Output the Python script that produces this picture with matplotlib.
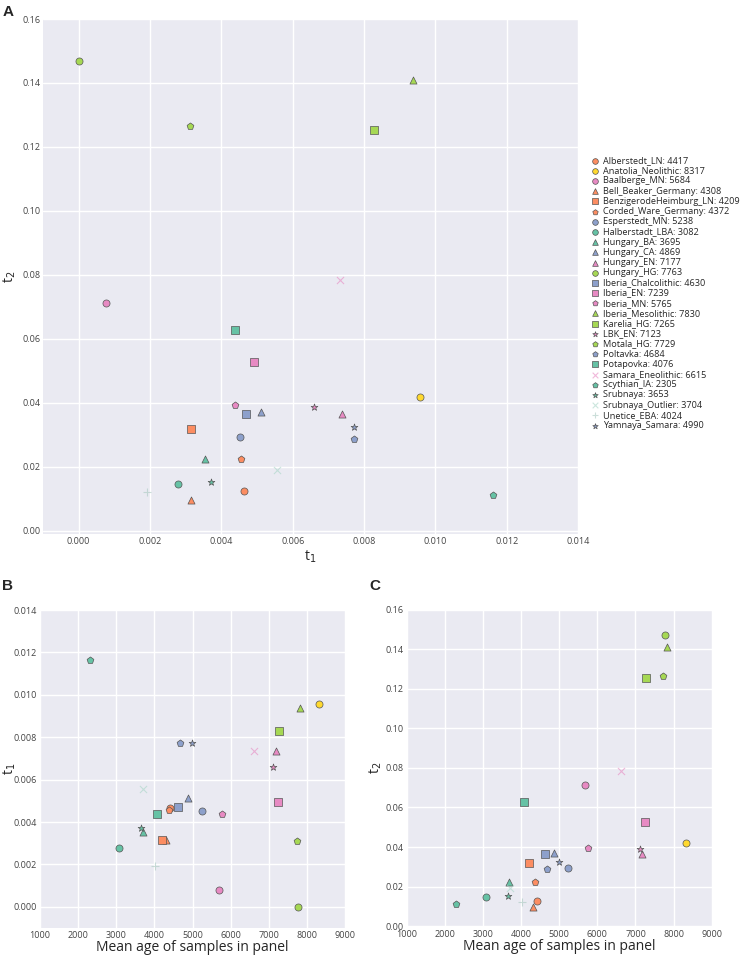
import numpy as np
import matplotlib.pyplot as plt
import seaborn as sns

groups = ['Alberstedt_LN', 'Anatolia_Neolithic', 'Baalberge_MN', 'Bell_Beaker_Germany',
          'BenzigerodeHeimburg_LN', 'Corded_Ware_Germany', 'Esperstedt_MN', 'Halberstadt_LBA',
          'Hungary_BA', 'Hungary_CA', 'Hungary_EN', 'Hungary_HG', 'Iberia_Chalcolithic',
          'Iberia_EN', 'Iberia_MN', 'Iberia_Mesolithic', 'Karelia_HG', 'LBK_EN', 'Motala_HG',
          'Poltavka', 'Potapovka', 'Samara_Eneolithic', 'Scythian_IA', 'Srubnaya',
          'Srubnaya_Outlier', 'Unetice_EBA', 'Yamnaya_Samara']
ages = [4417, 8317, 5684, 4308, 4209, 4372, 5238, 3082, 3695, 4869, 7177, 7763, 4630,
        7239, 5765, 7830, 7265, 7123, 7729, 4684, 4076, 6615, 2305, 3653, 3704, 4024, 4990]
t1 = [0.00464, 0.00957, 0.00078, 0.00316, 0.00315, 0.00455, 0.00451, 0.00279,
      0.00354, 0.00511, 0.00737, 0.00000, 0.00470, 0.00492, 0.00438, 0.00938,
      0.00828, 0.00660, 0.00311, 0.00772, 0.00438, 0.00733, 0.01162, 0.00370,
      0.00556, 0.00192, 0.00772]
t2 = [0.0126, 0.0418, 0.0713, 0.0096, 0.0317, 0.0225, 0.0292, 0.0146,
      0.0224, 0.0370, 0.0364, 0.1470, 0.0365, 0.0529, 0.0393, 0.1410,
      0.1253, 0.0388, 0.1266, 0.0288, 0.0627, 0.0784, 0.0112, 0.0153,
      0.0191, 0.0120, 0.0326]

# styles per group
teal, orange, blue, pink, green, yellow = '#66c2a5', '#fc8d62', '#8da0cb', '#e78ac3', '#a6d854', '#ffd92f'
colors = [orange, yellow, pink, orange, orange, orange, blue, teal, teal, blue, pink, green,
          blue, pink, pink, green, green, pink, green, blue, teal, pink, teal, teal, '#a9d6c8',
          '#a9c9c0', blue]
markers = ['o', 'o', 'o', '^', 's', 'p', 'o', 'o', '^', '^', '^', 'o', 's', 's', 'p', '^',
           's', '*', 'p', 'p', 's', 'x', 'p', '*', 'x', '+', '*']

sns.set_style('darkgrid')
plt.rcParams['font.family'] = ['Open Sans', 'DejaVu Sans']
plt.rcParams['axes.facecolor'] = '#eaeaf2'
plt.rcParams['xtick.color'] = '#444444'
plt.rcParams['ytick.color'] = '#444444'

fig = plt.figure(figsize=(7.41, 9.56), dpi=100)
axA = fig.add_axes([0.058, 0.4414, 0.722, 0.5387])
axB = fig.add_axes([0.054, 0.0293, 0.4116, 0.3326])
axC = fig.add_axes([0.5489, 0.0306, 0.4116, 0.3316])


def draw(ax, xs, ys, with_label=False):
    for i in range(len(groups)):
        kw = dict(marker=markers[i], s=26, zorder=3)
        if markers[i] in ('x', '+'):
            kw.update(color=colors[i], linewidths=0.8, alpha=0.6)
        else:
            kw.update(facecolor=colors[i], edgecolor='#555555', linewidths=0.5)
        lab = '{}: {}'.format(groups[i], ages[i]) if with_label else None
        ax.scatter(xs[i], ys[i], label=lab, **kw)


draw(axA, t1, t2, True)
axA.set_xlim(-0.001, 0.014)
axA.set_ylim(-0.001, 0.16)
axA.set_xticks(np.arange(0, 0.0141, 0.002))
axA.set_yticks(np.arange(0, 0.161, 0.02))
axA.xaxis.set_major_formatter(plt.FormatStrFormatter('%.3f'))
axA.yaxis.set_major_formatter(plt.FormatStrFormatter('%.2f'))
axA.set_xlabel('t$_1$', fontsize=10, labelpad=2)
axA.set_ylabel('t$_2$', fontsize=10)
axA.yaxis.set_label_coords(-0.046, 0.5)
axA.legend(loc='center left', bbox_to_anchor=(0.79, 0.6935), bbox_transform=fig.transFigure,
           frameon=False, fontsize=6.6, labelspacing=0.13, handletextpad=0.3,
           handlelength=1.2, borderaxespad=0, scatterpoints=1, markerscale=0.8)

draw(axB, ages, t1)
axB.set_xlim(1000, 9000)
axB.set_ylim(-0.001, 0.014)
axB.set_yticks(np.arange(0, 0.0141, 0.002))
axB.yaxis.set_major_formatter(plt.FormatStrFormatter('%.3f'))
axB.set_xlabel('Mean age of samples in panel', fontsize=10, labelpad=0)
axB.set_ylabel('t$_1$', fontsize=10)
axB.yaxis.set_label_coords(-0.072, 0.5)

draw(axC, ages, t2)
axC.set_xlim(1000, 9000)
axC.set_ylim(-0.0003, 0.16)
axC.set_yticks(np.arange(0, 0.161, 0.02))
axC.yaxis.set_major_formatter(plt.FormatStrFormatter('%.2f'))
axC.set_xlabel('Mean age of samples in panel', fontsize=10, labelpad=0)
axC.set_ylabel('t$_2$', fontsize=10)
axC.yaxis.set_label_coords(-0.074, 0.5)

for ax in (axA, axB, axC):
    ax.tick_params(labelsize=6.5, pad=2, length=0)
    ax.grid(color='white', linewidth=1)
    for sp in ax.spines.values():
        sp.set_visible(False)

for lbl, x, y in (('A', 0.004, 0.995), ('B', 0.003, 0.394), ('C', 0.499, 0.394)):
    fig.text(x, y, lbl, fontsize=11, fontweight='bold', family='Liberation Sans', va='top', ha='left')

fig.savefig('out.png', dpi=100)
